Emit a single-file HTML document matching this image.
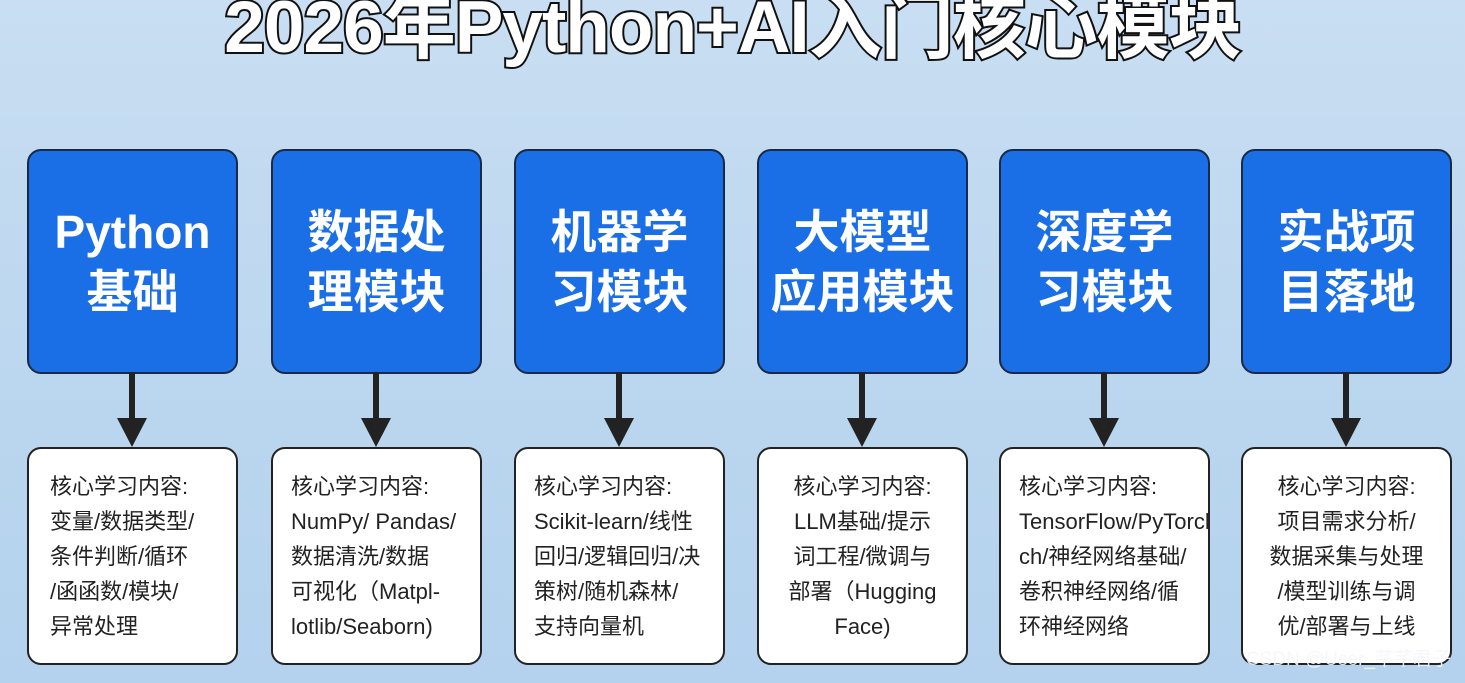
<!DOCTYPE html>
<html><head><meta charset="utf-8"><style>
body{margin:0;width:1465px;height:683px;overflow:hidden;background:linear-gradient(180deg,#c9def2 0%,#bcd7ef 50%,#b4d2ee 100%);font-family:"Liberation Sans","Noto Sans CJK SC",sans-serif;position:relative}
.title{position:absolute;left:0;width:1465px;top:-32px;text-align:center;font-size:73px;font-weight:bold;color:#fff;-webkit-text-stroke:4px #111;paint-order:stroke fill;letter-spacing:-1px;white-space:nowrap}
.b{position:absolute;top:149px;width:207px;height:221px;background:#1b6fe6;border:2px solid #1a2a44;border-radius:14px;color:#fff;font-weight:bold;font-size:46px;line-height:60px;display:flex;align-items:center;justify-content:center;text-align:center;box-sizing:content-box}
.w{position:absolute;top:447px;width:211px;height:218px;background:#fff;border:2px solid #222;border-radius:14px;color:#222;font-size:22px;line-height:35px;padding:20px 0 0 18px;box-sizing:border-box;white-space:nowrap}
.s{position:absolute;top:372px;width:6px;height:50px;background:#222}
.h{position:absolute;top:418px;width:0;height:0;border-left:15px solid transparent;border-right:15px solid transparent;border-top:29px solid #222}
.wm{position:absolute;right:14px;bottom:12px;font-size:19px;color:#f4f7fb;opacity:.9}
</style></head><body>
<div class="title">2026年Python+AI入门核心模块</div>

<div class="b" style="left:27px">Python<br>基础</div>
<div class="b" style="left:271px">数据处<br>理模块</div>
<div class="b" style="left:514px">机器学<br>习模块</div>
<div class="b" style="left:757px">大模型<br>应用模块</div>
<div class="b" style="left:999px">深度学<br>习模块</div>
<div class="b" style="left:1241px">实战项<br>目落地</div>

<div class="s" style="left:129px"></div><div class="h" style="left:117px"></div>
<div class="s" style="left:373px"></div><div class="h" style="left:361px"></div>
<div class="s" style="left:616px"></div><div class="h" style="left:604px"></div>
<div class="s" style="left:859px"></div><div class="h" style="left:847px"></div>
<div class="s" style="left:1101px"></div><div class="h" style="left:1089px"></div>
<div class="s" style="left:1343px"></div><div class="h" style="left:1331px"></div>

<div class="w" style="left:27px;padding-left:21px">核心学习内容:<br>变量/数据类型/<br>条件判断/循环<br>/函函数/模块/<br>异常处理</div>
<div class="w" style="left:271px">核心学习内容:<br>NumPy/ Pandas/<br>数据清洗/数据<br>可视化（Matpl-<br>lotlib/Seaborn)</div>
<div class="w" style="left:514px">核心学习内容:<br>Scikit-learn/线性<br>回归/逻辑回归/决<br>策树/随机森林/<br>支持向量机</div>
<div class="w" style="left:757px;text-align:center;padding-left:0">核心学习内容:<br>LLM基础/提示<br>词工程/微调与<br>部署（Hugging<br>Face)</div>
<div class="w" style="left:999px;overflow:hidden">核心学习内容:<br>TensorFlow/PyTorch<br>ch/神经网络基础/<br>卷积神经网络/循<br>环神经网络</div>
<div class="w" style="left:1241px;text-align:center;padding-left:0">核心学习内容:<br>项目需求分析/<br>数据采集与处理<br>/模型训练与调<br>优/部署与上线</div>
<div class="wm">CSDN @User_芊芊君子</div>
</body></html>
